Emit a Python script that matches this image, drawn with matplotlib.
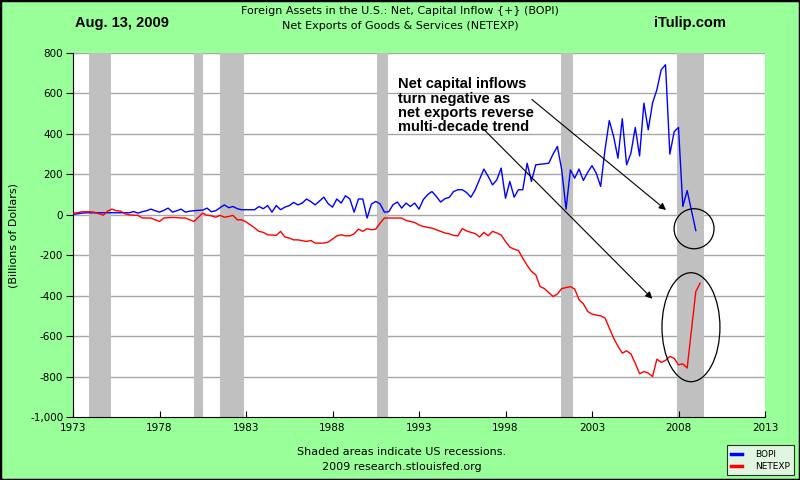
import numpy as np
import matplotlib
matplotlib.use('Agg')
import matplotlib.pyplot as plt
from matplotlib.patches import Ellipse, Rectangle
from matplotlib.ticker import FuncFormatter

# quarterly values, billions of dollars, starting 1973Q1
bopi = [
    2, 5, 8, 10,   10, 10, 10, 10,   10, 10, 10, 10,   10, 10, 16, 8,
    15, 20, 28, 20,   13, 22, 33, 13,   20, 28, 13, 18,   20, 22, 23, 33,
    15, 20, 35, 49,   35, 41, 30, 25,   25, 25, 25, 41,   30, 46, 13, 46,
    25, 38, 45, 61,   49, 58, 78, 65,   49, 68, 87, 55,   38, 78, 58, 94,
    79, 13, 78, 78,   -16, 53, 66, 54,   13, 15, 50, 63,   33, 58, 41, 58,
    28, 75, 100, 115,   91, 63, 80, 86,   115, 124, 124, 110,   87, 124, 175, 226,
    190, 148, 173, 231,   82, 165, 87, 124,   124, 255, 165, 247,   250, 252, 255, 300,
    338, 222, 28, 222,   181, 226, 170, 210,   243, 205, 140, 321,   466, 387, 280, 475,
    247, 305, 432, 291,   552, 420, 553, 618,   717, 742, 300, 411,   432, 41, 120, 21,
    -78,
]
netexp = [
    8, 10, 15, 15,   15, 12, 5, -2,   18, 28, 20, 18,   5, 0, -2, -3,
    -16, -16, -16, -25,   -33, -16, -14, -13,   -14, -16, -16, -25,   -33, -12, 8, -2,
    -5, -12, -3, -12,   -8, -3, -25, -25,   -35, -50, -65, -82,   -87, -99, -100, -102,
    -82, -110, -115, -124,   -124, -128, -132, -127,   -140, -140, -140, -135,   -120, -104, -99, -104,
    -104, -94, -71, -82,   -69, -74, -71, -41,   -16, -16, -16, -16,   -16, -28, -33, -38,
    -50, -58, -62, -66,   -74, -82, -90, -94,   -102, -104, -68, -80,   -87, -93, -110, -87,
    -104, -82, -90, -100,   -132, -160, -170, -177,   -215, -250, -280, -297,   -355, -365, -385, -404,
    -392, -365, -360, -355,   -367, -420, -440, -478,   -491, -496, -500, -510,   -560, -610, -650, -684,
    -673, -688, -734, -786,   -775, -783, -800, -714,   -730, -720, -700, -710,   -742, -737, -758, -569,
    -380, -338,
]
recessions = [(1973.9, 1975.2), (1980.0, 1980.5), (1981.5, 1982.9),
              (1990.6, 1991.2), (2001.2, 2001.9), (2007.9, 2009.5)]
year_ticks = list(range(1973, 2014, 5))

t_bopi = 1973 + np.arange(len(bopi)) * 0.25
t_net = 1973 + np.arange(len(netexp)) * 0.25

green = '#99FF99'
fig = plt.figure(figsize=(8, 4.8), dpi=100, facecolor=green)
ax = fig.add_axes([0.09125, 0.13125, 0.865, 0.7583])
ax.set_facecolor('white')

for a, b in recessions:
    ax.axvspan(a, b, color='#C0C0C0', lw=0, zorder=1)
for v in range(-800, 801, 200):
    ax.axhline(v, color='#A8A8A8', lw=1, zorder=0.5)

ax.plot(t_bopi, bopi, color='#0000FF', lw=1, zorder=3, label='BOPI')
ax.plot(t_net, netexp, color='#FF0000', lw=1, zorder=3, label='NETEXP')

ax.set_xlim(1973, 2013)
ax.set_ylim(-1000, 800)
ax.set_xticks(year_ticks)
ax.set_yticks(range(-1000, 801, 200))
ax.yaxis.set_major_formatter(FuncFormatter(lambda v, p: f'{int(v):,}'))
ax.tick_params(axis='x', direction='in', length=4, labelsize=7.5, pad=4)
ax.tick_params(axis='y', direction='out', length=5, labelsize=7.5, pad=2)
for s in ['top', 'right']:
    ax.spines[s].set_visible(False)
ax.set_ylabel('(Billions of Dollars)', fontsize=8, labelpad=8)

# annotations
ax.text(1991.8, 680, 'Net capital inflows\nturn negative as\nnet exports reverse\nmulti-decade trend',
        family='Liberation Sans', weight='bold', fontsize=10.5, va='top', ha='left',
        linespacing=1.02, zorder=5)
ax.annotate('', xy=(2007.4, 15), xytext=(1999.4, 579),
            arrowprops=dict(arrowstyle='-|>', color='black', lw=0.8, mutation_scale=10), zorder=5)
ax.annotate('', xy=(2006.6, -425), xytext=(1996.6, 435),
            arrowprops=dict(arrowstyle='-|>', color='black', lw=0.8, mutation_scale=10), zorder=5)
ax.add_patch(Ellipse((2008.9, -69), 2.31, 198, fill=False, ec='black', lw=0.9, zorder=5))
ax.add_patch(Ellipse((2008.72, -556), 3.35, 539, fill=False, ec='black', lw=0.9, zorder=5))

# header / footer
fig.text(0.5, 0.977, 'Foreign Assets in the U.S.: Net, Capital Inflow {+} (BOPI)',
         ha='center', va='center', fontsize=8)
fig.text(0.5, 0.945, 'Net Exports of Goods & Services (NETEXP)',
         ha='center', va='center', fontsize=8)
fig.text(0.152, 0.952, 'Aug. 13, 2009', family='Liberation Sans', weight='bold',
         fontsize=10.5, ha='center', va='center')
fig.text(0.863, 0.952, 'iTulip.com', family='Liberation Sans', weight='bold',
         fontsize=10.5, ha='center', va='center')
fig.text(0.502, 0.058, 'Shaded areas indicate US recessions.', ha='center', va='center', fontsize=8)
fig.text(0.502, 0.027, '2009 research.stlouisfed.org', ha='center', va='center', fontsize=8)

leg = fig.legend(loc='lower right', bbox_to_anchor=(0.996, 0.004), fontsize=6.5,
                 frameon=True, fancybox=False, handlelength=1.2, borderpad=0.5,
                 labelspacing=0.35, handletextpad=1.4, borderaxespad=0.3)
leg.get_frame().set_edgecolor('black')
leg.get_frame().set_facecolor('#F4F4F4')
leg.get_frame().set_linewidth(0.8)
for line in leg.get_lines():
    line.set_linewidth(2.5)

fig.patches.append(Rectangle((0, 0), 1, 1, transform=fig.transFigure, fill=False,
                             ec='black', lw=2.5, zorder=10))

fig.savefig('out.png', dpi=100, facecolor=green)
